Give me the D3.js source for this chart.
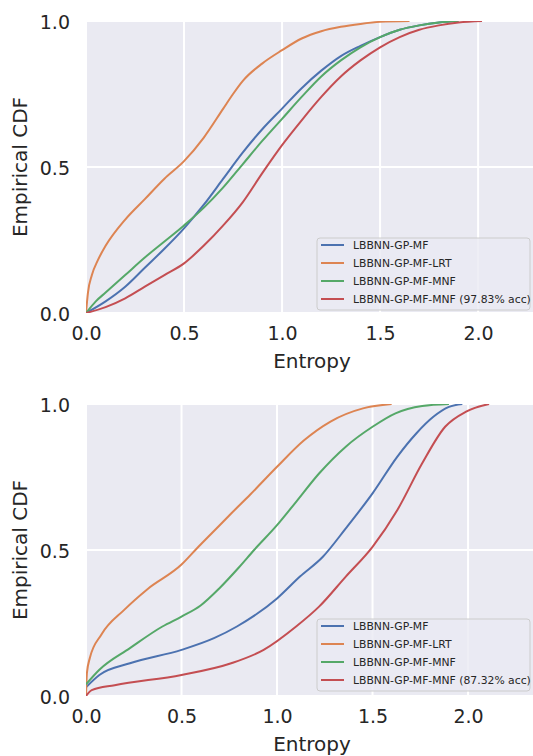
<!DOCTYPE html>
<html>
<head>
<meta charset="utf-8">
<script src="https://cdn.jsdelivr.net/npm/d3@7"></script>
<style>
body { margin: 0; background: white; }
svg { display: block; font-family: "DejaVu Sans", sans-serif; }
</style>
</head>
<body>
<svg id="canvas"></svg>
<script>
var width = 533
var height = 756

var seriesNames = ["LBBNN-GP-MF", "LBBNN-GP-MF-LRT", "LBBNN-GP-MF-MNF"]
var colors = ["#4C72B0", "#DD8452", "#55A868", "#C44E52"]
var xTicks = [0.0, 0.5, 1.0, 1.5, 2.0]
var yTicks = [0.0, 0.5, 1.0]

// top panel, [entropy, cdf]
var topMF = [[0,0],[0.1,0.04],[0.2,0.09],[0.3,0.155],[0.4,0.22],[0.5,0.29],[0.6,0.37],[0.7,0.46],[0.8,0.55],[0.9,0.63],[1.0,0.70],[1.1,0.77],[1.2,0.83],[1.3,0.88],[1.4,0.915],[1.5,0.945],[1.6,0.97],[1.7,0.985],[1.8,0.995],[1.9,1.0]]
var topLRT = [[0,0],[0.01,0.07],[0.03,0.13],[0.06,0.18],[0.1,0.23],[0.2,0.32],[0.3,0.39],[0.4,0.46],[0.5,0.52],[0.6,0.60],[0.7,0.70],[0.75,0.75],[0.8,0.795],[0.9,0.855],[1.0,0.90],[1.1,0.94],[1.2,0.965],[1.3,0.98],[1.4,0.99],[1.5,0.997],[1.65,1.0]]
var topMNF = [[0,0],[0.05,0.04],[0.1,0.07],[0.2,0.13],[0.3,0.19],[0.4,0.245],[0.5,0.30],[0.6,0.36],[0.7,0.43],[0.8,0.51],[0.9,0.59],[1.0,0.665],[1.1,0.74],[1.2,0.81],[1.3,0.865],[1.4,0.91],[1.5,0.945],[1.6,0.97],[1.7,0.985],[1.8,0.995],[1.9,1.0]]
var topMNFacc = [[0,0],[0.1,0.02],[0.2,0.05],[0.3,0.09],[0.4,0.13],[0.5,0.17],[0.6,0.23],[0.7,0.30],[0.8,0.38],[0.9,0.48],[1.0,0.575],[1.1,0.66],[1.2,0.74],[1.3,0.81],[1.4,0.865],[1.5,0.91],[1.6,0.945],[1.7,0.97],[1.8,0.985],[1.9,0.995],[2.02,1.0]]

// bottom panel
var botMF = [[0,0.03],[0.07,0.072],[0.23,0.112],[0.5,0.158],[0.67,0.198],[0.79,0.238],[1.0,0.334],[1.12,0.409],[1.24,0.477],[1.36,0.574],[1.5,0.694],[1.63,0.82],[1.73,0.90],[1.82,0.957],[1.9,0.99],[1.97,1.0]]
var botLRT = [[0,0],[0.005,0.08],[0.02,0.13],[0.08,0.21],[0.2,0.295],[0.32,0.365],[0.5,0.45],[0.58,0.505],[0.67,0.565],[0.76,0.625],[0.86,0.69],[1.0,0.785],[1.14,0.875],[1.28,0.94],[1.45,0.985],[1.6,1.0]]
var botMNF = [[0,0.04],[0.07,0.09],[0.23,0.164],[0.4,0.238],[0.5,0.272],[0.6,0.31],[0.7,0.37],[0.8,0.44],[0.88,0.50],[1.0,0.585],[1.1,0.665],[1.22,0.762],[1.36,0.854],[1.5,0.922],[1.62,0.968],[1.76,0.993],[1.9,1.0]]
var botMNFacc = [[0,0],[0.03,0.02],[0.15,0.037],[0.5,0.072],[0.76,0.112],[0.93,0.158],[1.1,0.238],[1.22,0.306],[1.36,0.409],[1.5,0.511],[1.63,0.637],[1.76,0.797],[1.88,0.922],[1.99,0.974],[2.11,1.0]]

var svg = d3.select("#canvas")
	.attr("width", width)
	.attr("height", height)

function drawPanel(id, top, bottom, xMax, series, labels, legendTop) {
	var left = 86, right = 533
	var x = d3.scaleLinear().domain([0, xMax]).range([left, right])
	var y = d3.scaleLinear().domain([0, 1]).range([bottom, top])
	var g = svg.append("g")

	g.append("rect")
		.attr("x", left).attr("y", top)
		.attr("width", right - left).attr("height", bottom - top)
		.attr("fill", "#EAEAF2")

	g.append("clipPath").attr("id", "clip" + id)
		.append("rect")
		.attr("x", left).attr("y", top)
		.attr("width", right - left).attr("height", bottom - top)

	// grid
	g.selectAll(".vgrid").data(xTicks).join("line")
		.attr("x1", d => x(d)).attr("x2", d => x(d))
		.attr("y1", top).attr("y2", bottom)
		.attr("stroke", "white").attr("stroke-width", 2)
	g.selectAll(".hgrid").data(yTicks).join("line")
		.attr("class", "hgrid")
		.attr("x1", left).attr("x2", right)
		.attr("y1", d => y(d)).attr("y2", d => y(d))
		.attr("stroke", "white").attr("stroke-width", 2)

	// axes, tick labels only
	g.append("g")
		.attr("transform", "translate(0," + bottom + ")")
		.call(d3.axisBottom(x).tickValues(xTicks).tickFormat(d3.format(".1f")).tickSize(0).tickPadding(14))
	var yAxis = g.append("g")
		.attr("transform", "translate(" + left + ",0)")
		.call(d3.axisLeft(y).tickValues(yTicks).tickFormat(d3.format(".1f")).tickSize(0).tickPadding(16))
	svg.selectAll(".domain").remove()
	g.selectAll(".tick text")
		.attr("fill", "#262626")
		.style("font-size", "19px")
		.style("font-family", "DejaVu Sans")
	yAxis.selectAll(".tick text").attr("dy", "0.4em")

	g.append("text")
		.attr("x", 312)
		.attr("y", bottom + 55)
		.attr("text-anchor", "middle")
		.attr("fill", "#262626")
		.style("font-size", "20px")
		.text("Entropy")

	g.append("text")
		.attr("transform", "translate(27," + ((top + bottom) / 2) + ") rotate(-90)")
		.attr("text-anchor", "middle")
		.attr("fill", "#262626")
		.style("font-size", "20px")
		.text("Empirical CDF")

	var line = d3.line()
		.x(d => x(d[0]))
		.y(d => y(d[1]))
		.curve(d3.curveMonotoneX)

	g.append("g").attr("clip-path", "url(#clip" + id + ")")
		.selectAll("path").data(series).join("path")
		.attr("d", d => line(d))
		.attr("fill", "none")
		.attr("stroke", (d, i) => colors[i])
		.attr("stroke-width", 2)

	// legend
	var lg = g.append("g")
	lg.append("rect")
		.attr("x", 317).attr("y", legendTop)
		.attr("width", 213).attr("height", 72)
		.attr("rx", 3)
		.attr("fill", "#EAEAF2").attr("fill-opacity", 0.8)
		.attr("stroke", "#CCCCCC")
	var items = lg.selectAll(".item").data(labels).join("g")
		.attr("transform", (d, i) => "translate(0," + (legendTop + 7 + i * 18) + ")")
	items.append("line")
		.attr("x1", 321).attr("x2", 344)
		.attr("stroke", (d, i) => colors[i])
		.attr("stroke-width", 2)
	items.append("text")
		.attr("x", 353)
		.attr("dy", "0.35em")
		.attr("fill", "#262626")
		.style("font-size", "10.8px")
		.text(d => d)
}

drawPanel("a", 21, 313, 2.28, [topMF, topLRT, topMNF, topMNFacc],
	seriesNames.concat(["LBBNN-GP-MF-MNF (97.83% acc)"]), 238)
drawPanel("b", 404, 696, 2.34, [botMF, botLRT, botMNF, botMNFacc],
	seriesNames.concat(["LBBNN-GP-MF-MNF (87.32% acc)"]), 619)
</script>
</body>
</html>
